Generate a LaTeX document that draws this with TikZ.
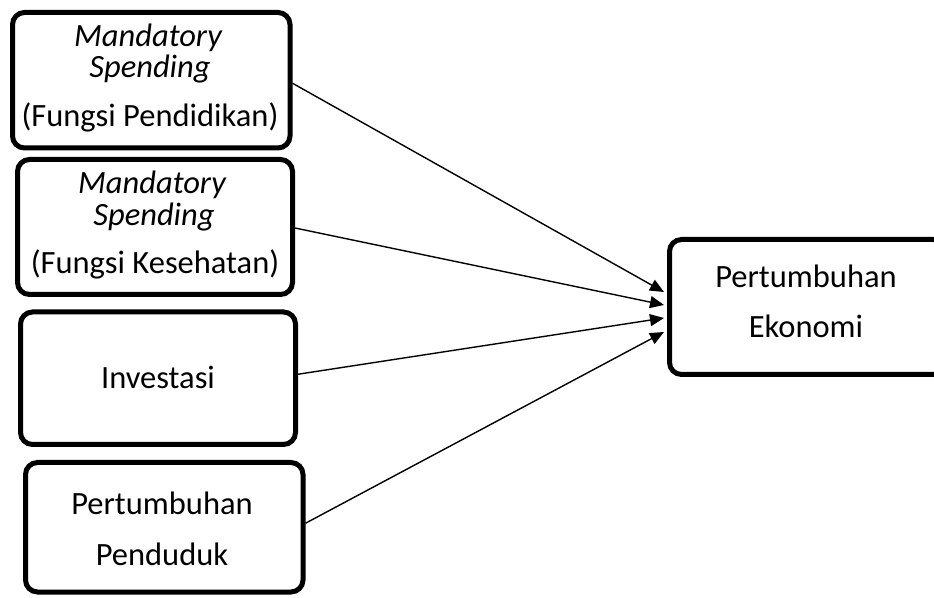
\documentclass[tikz,border=0pt]{standalone}
\usepackage{fontspec}
\setmainfont{Carlito}
\usetikzlibrary{arrows.meta}
\begin{document}
\begin{tikzpicture}[x=1pt,y=1pt,
  box/.style={draw=black,line width=5pt,rounded corners=12pt,inner sep=0pt,fill=white},
  lbl/.style={anchor=base,inner sep=0pt,font=\fontsize{32.5}{38}\selectfont},
  arr/.style={draw=black,line width=1.4pt,-{Triangle[length=14pt,width=12pt]}}]
\useasboundingbox (0,0) rectangle (934,597);
\fill[white] (0,0) rectangle (934,597);
\begin{scope}
\clip (0,0) rectangle (934,597);
% boxes
\node[box,minimum width=277.5pt,minimum height=135.5pt] (b1) at (151.25,516.75) {};
\node[box,minimum width=275pt,minimum height=135pt] (b2) at (155,370) {};
\node[box,minimum width=275pt,minimum height=132.5pt] (b3) at (158,218.75) {};
\node[box,minimum width=277.5pt,minimum height=129.5pt] (b4) at (164.25,69.75) {};
\node[box,minimum width=275.5pt,minimum height=135pt] (e) at (807.25,290) {};
\end{scope}
% texts
\node[lbl] (t1a) at (148,550) {\itshape Mandatory};
\node[lbl] (t1b) at (150,519) {\itshape Spending};
\node[lbl] (t1c) at (150,470) {(Fungsi Pendidikan)};
\node[lbl] (t2a) at (152,403) {\itshape Mandatory};
\node[lbl] (t2b) at (154,371) {\itshape Spending};
\node[lbl] (t2c) at (155,323) {(Fungsi Kesehatan)};
\node[lbl] (t3) at (158,208) {Investasi};
\node[lbl] (t4a) at (162,82) {Pertumbuhan};
\node[lbl] (t4b) at (162,32) {Penduduk};
\node[lbl] (tea) at (806,309) {Pertumbuhan};
\node[lbl] (teb) at (806,259) {Ekonomi};
% arrow ends
\coordinate (p1) at ([xshift=-3pt,yshift=15pt]e.west);
\coordinate (p2) at ([xshift=-3pt,yshift=2pt]e.west);
\coordinate (p3) at ([xshift=-3pt,yshift=-11pt]e.west);
\coordinate (p4) at ([xshift=-3pt,yshift=-25pt]e.west);
\draw[arr] ([yshift=-3pt]b1.east) -- (p1);
\draw[arr] ([yshift=-1pt]b2.east) -- (p2);
\draw[arr] ([yshift=4pt]b3.east) -- (p3);
\draw[arr] ([yshift=4pt]b4.east) -- (p4);
\end{tikzpicture}
\end{document}
